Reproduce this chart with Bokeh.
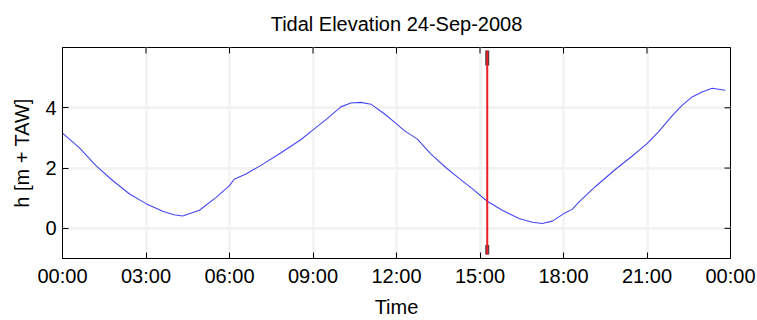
import math
from bokeh.plotting import figure
from bokeh.models import FixedTicker, Range1d, LinearAxis
from bokeh.embed import file_html
from bokeh.resources import INLINE

# ---- data ----
hours = [0.0, 0.61, 1.21, 1.81, 2.41, 3.00, 3.60, 4.00, 4.32, 4.92, 5.52, 6.00,
         6.17, 6.59, 7.13, 7.85, 8.56, 8.98, 9.52, 10.00, 10.36, 10.72, 11.08,
         11.55, 11.97, 12.27, 12.75, 13.23, 13.77, 14.25, 14.73, 15.26, 15.80,
         16.40, 16.88, 17.24, 17.60, 18.01, 18.31, 18.55, 19.15, 19.87, 20.47,
         21.00, 21.42, 21.90, 22.26, 22.62, 22.98, 23.34, 23.81]
height_m = [3.16, 2.67, 2.07, 1.58, 1.14, 0.82, 0.57, 0.45, 0.41, 0.60, 1.03, 1.42,
            1.63, 1.80, 2.09, 2.51, 2.94, 3.25, 3.65, 4.03, 4.16, 4.18, 4.12,
            3.81, 3.49, 3.25, 2.96, 2.47, 2.02, 1.66, 1.31, 0.90, 0.60,
            0.33, 0.20, 0.16, 0.24, 0.49, 0.63, 0.87, 1.39, 1.96, 2.40,
            2.81, 3.21, 3.73, 4.08, 4.36, 4.52, 4.65, 4.58]

tick_hours = [0, 3, 6, 9, 12, 15, 18, 21, 24]
tick_labels = ["00:00", "03:00", "06:00", "09:00", "12:00", "15:00",
               "18:00", "21:00", "00:00"]
y_ticks = [0, 2, 4]
x_limits = [0, 24]
y_limits = [-1, 6]

marker_hour = [15.26]
marker_span = [-0.87, 5.9]
marker_cap_top = [5.4, 5.9]
marker_cap_bottom = [-0.87, -0.55]

title_text = "Tidal Elevation 24-Sep-2008"
FONT = "Liberation Sans"

p = figure(width=757, height=320, output_backend="svg", toolbar_location=None,
           x_range=Range1d(*x_limits), y_range=Range1d(*y_limits),
           min_border_left=62, min_border_right=27, min_border_top=47,
           min_border_bottom=60,
           x_axis_label="Time", y_axis_label="h [m + TAW]")

p.background_fill_color = "white"
p.border_fill_color = "white"
p.outline_line_color = "black"
p.outline_line_width = 1

xt = FixedTicker(ticks=tick_hours)
yt = FixedTicker(ticks=y_ticks)

for ax in (p.xaxis[0], p.yaxis[0]):
    ax.major_label_text_font = FONT
    ax.major_label_text_font_size = "20px"
    ax.major_label_text_color = "black"
    ax.axis_label_text_font = FONT
    ax.axis_label_text_font_size = "20px"
    ax.axis_label_text_font_style = "normal"
    ax.axis_label_text_color = "black"
    ax.major_tick_in = 6
    ax.major_tick_out = 0
    ax.minor_tick_line_color = None
    ax.axis_line_color = "black"
    ax.major_tick_line_color = "black"

p.xaxis[0].ticker = xt
p.xaxis[0].major_label_overrides = {h: lab for h, lab in zip(tick_hours, tick_labels)}
p.xaxis[0].major_label_standoff = 6
p.xaxis[0].axis_label_standoff = 6
p.yaxis[0].ticker = yt
p.yaxis[0].major_label_standoff = 6
p.yaxis[0].axis_label_standoff = 9

# title carried by a tick-less axis above the box, so its distance is controllable
title_axis = LinearAxis(ticker=FixedTicker(ticks=[]), axis_label=title_text,
                        axis_label_text_font=FONT, axis_label_text_font_size="20px",
                        axis_label_text_font_style="normal", axis_label_text_color="black",
                        axis_label_standoff=13, major_label_standoff=0,
                        axis_line_color=None, major_tick_line_color=None,
                        minor_tick_line_color=None)
p.add_layout(title_axis, "above")

p.xgrid.ticker = xt
p.ygrid.ticker = yt
p.xgrid.grid_line_color = "#f5f5f5"
p.ygrid.grid_line_color = "#f3f3f3"
p.xgrid.grid_line_width = 3
p.ygrid.grid_line_width = 3

# inward ticks on the top and right edges of the box (half of each dash is clipped)
p.scatter(x=tick_hours, y=[y_limits[1]] * len(tick_hours), marker="dash", size=12,
          angle=math.pi / 2, line_color="black", line_width=1)
p.scatter(x=[x_limits[1]] * len(y_ticks), y=y_ticks, marker="dash", size=12,
          angle=0, line_color="black", line_width=1)

p.line(hours, height_m, line_color="#4646f0", line_width=1.1)

p.segment(x0=marker_hour, y0=[marker_cap_top[0]], x1=marker_hour, y1=[marker_cap_top[1]],
          line_color="#404040", line_width=4)
p.segment(x0=marker_hour, y0=[marker_cap_bottom[0]], x1=marker_hour, y1=[marker_cap_bottom[1]],
          line_color="#404040", line_width=4)
p.segment(x0=marker_hour, y0=[marker_span[0]], x1=marker_hour, y1=[marker_span[1]],
          line_color="#ee1c25", line_width=2)

open("out.html", "w").write(file_html(p, INLINE))
